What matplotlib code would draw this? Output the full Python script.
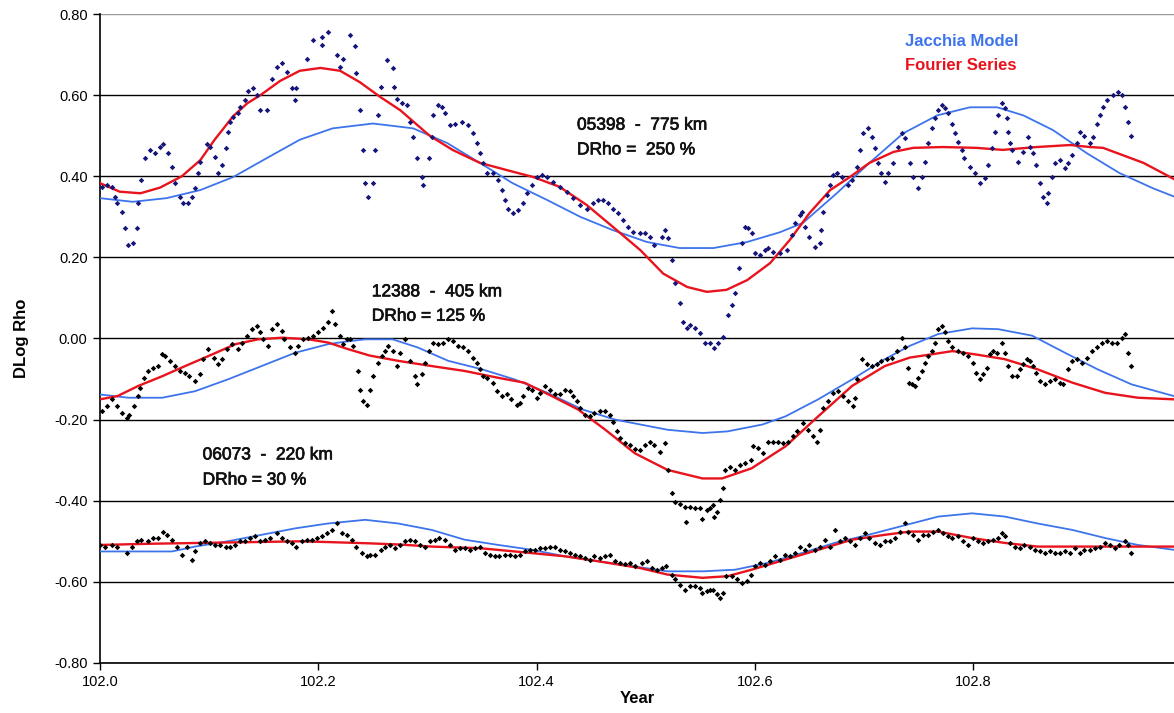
import numpy as np
import matplotlib
matplotlib.use("Agg")
import matplotlib.pyplot as plt
import matplotlib.patheffects as pe

plt.rcParams["font.family"] = ["Liberation Sans", "DejaVu Sans"]

# ---------------------------------------------------------------------------
# 05398 - 775 km (observed points)
s1_x = [
    102.002, 102.006, 102.011, 102.014, 102.016, 102.020, 102.023, 102.026, 102.030, 102.034,
    102.035, 102.038, 102.041, 102.046, 102.050, 102.055, 102.058, 102.062, 102.066, 102.069,
    102.073, 102.076, 102.081, 102.084, 102.087, 102.090, 102.092, 102.098, 102.101, 102.105,
    102.108, 102.112, 102.115, 102.117, 102.119, 102.122, 102.126, 102.128, 102.133, 102.136,
    102.140, 102.144, 102.147, 102.153, 102.158, 102.162, 102.167, 102.171, 102.176, 102.179,
    102.180, 102.190, 102.195, 102.203, 102.203, 102.209, 102.217, 102.220, 102.223, 102.229,
    102.234, 102.235, 102.238, 102.241, 102.243, 102.246, 102.250, 102.252, 102.255, 102.257,
    102.263, 102.268, 102.269, 102.272, 102.277, 102.281, 102.284, 102.287, 102.290, 102.295,
    102.296, 102.301, 102.304, 102.305, 102.310, 102.313, 102.316, 102.321, 102.325, 102.332,
    102.337, 102.342, 102.345, 102.348, 102.351, 102.355, 102.360, 102.365, 102.368, 102.371,
    102.374, 102.378, 102.383, 102.388, 102.391, 102.396, 102.400, 102.405, 102.410, 102.415,
    102.421, 102.428, 102.433, 102.440, 102.446, 102.452, 102.456, 102.461, 102.465, 102.470,
    102.475, 102.479, 102.484, 102.488, 102.495, 102.499, 102.504, 102.508, 102.515, 102.518,
    102.520, 102.524, 102.527, 102.531, 102.534, 102.538, 102.541, 102.545, 102.550, 102.554,
    102.559, 102.563, 102.566, 102.571, 102.575, 102.579, 102.582, 102.585, 102.588, 102.591,
    102.594, 102.597, 102.600, 102.605, 102.609, 102.612, 102.617, 102.623, 102.629, 102.634,
    102.637, 102.641, 102.643, 102.646, 102.650, 102.655, 102.660, 102.661, 102.662, 102.666,
    102.669, 102.672, 102.675, 102.680, 102.685, 102.689, 102.694, 102.696, 102.699, 102.704,
    102.707, 102.710, 102.713, 102.716, 102.719, 102.722, 102.727, 102.731, 102.735, 102.738,
    102.742, 102.745, 102.749, 102.753, 102.756, 102.759, 102.762, 102.765, 102.768, 102.771,
    102.774, 102.777, 102.781, 102.783, 102.786, 102.790, 102.792, 102.797, 102.802, 102.806,
    102.811, 102.814, 102.817, 102.820, 102.823, 102.826, 102.829, 102.831, 102.832, 102.834,
    102.836, 102.841, 102.846, 102.850, 102.852, 102.855, 102.858, 102.861, 102.864, 102.868,
    102.869, 102.872, 102.875, 102.880, 102.884, 102.887, 102.891, 102.895, 102.898, 102.902,
    102.907, 102.910, 102.913, 102.916, 102.919, 102.923, 102.928, 102.933, 102.936, 102.939,
    102.942, 102.945,
]
s1_y = [
    0.374, 0.378, 0.374, 0.350, 0.334, 0.312, 0.272, 0.230, 0.235, 0.272,
    0.334, 0.390, 0.445, 0.465, 0.457, 0.472, 0.480, 0.457, 0.423, 0.383,
    0.350, 0.334, 0.334, 0.350, 0.370, 0.408, 0.435, 0.480, 0.472, 0.447,
    0.408, 0.428, 0.470, 0.510, 0.534, 0.546, 0.555, 0.570, 0.588, 0.610,
    0.617, 0.600, 0.563, 0.563, 0.640, 0.670, 0.680, 0.657, 0.617, 0.588,
    0.617, 0.690, 0.736, 0.743, 0.724, 0.756, 0.700, 0.670, 0.690, 0.748,
    0.720, 0.655, 0.563, 0.465, 0.383, 0.350, 0.383, 0.465, 0.550, 0.620,
    0.687, 0.667, 0.620, 0.590, 0.580, 0.575, 0.534, 0.497, 0.445, 0.398,
    0.378, 0.445, 0.497, 0.550, 0.575, 0.570, 0.555, 0.526, 0.530, 0.534,
    0.526, 0.506, 0.482, 0.457, 0.433, 0.408, 0.408, 0.390, 0.366, 0.341,
    0.320, 0.309, 0.317, 0.334, 0.358, 0.378, 0.398, 0.403, 0.398, 0.386,
    0.374, 0.361, 0.346, 0.329, 0.320, 0.334, 0.341, 0.341, 0.334, 0.320,
    0.309, 0.292, 0.275, 0.263, 0.260, 0.260, 0.250, 0.230, 0.250, 0.267,
    0.248, 0.193, 0.137, 0.087, 0.040, 0.026, 0.033, 0.026, 0.013, -0.010,
    -0.010, -0.023, -0.010, 0.003, 0.058, 0.083, 0.112, 0.174, 0.235, 0.275,
    0.272, 0.260, 0.210, 0.206, 0.218, 0.223, 0.213, 0.210, 0.218, 0.255,
    0.285, 0.304, 0.312, 0.275, 0.250, 0.226, 0.235, 0.267, 0.312, 0.354,
    0.378, 0.403, 0.408, 0.398, 0.378, 0.390, 0.423, 0.465, 0.506, 0.518,
    0.497, 0.470, 0.433, 0.408, 0.386, 0.408, 0.433, 0.472, 0.506, 0.494,
    0.433, 0.398, 0.370, 0.398, 0.435, 0.482, 0.518, 0.543, 0.563, 0.575,
    0.568, 0.555, 0.530, 0.506, 0.484, 0.465, 0.445, 0.423, 0.408, 0.383,
    0.395, 0.428, 0.470, 0.510, 0.550, 0.580, 0.568, 0.543, 0.510, 0.482,
    0.465, 0.435, 0.460, 0.497, 0.472, 0.457, 0.428, 0.383, 0.350, 0.334,
    0.358, 0.398, 0.433, 0.440, 0.420, 0.433, 0.452, 0.482, 0.510, 0.500,
    0.482, 0.497, 0.530, 0.550, 0.570, 0.588, 0.600, 0.608, 0.600, 0.570,
    0.534, 0.500,
]

# 12388 - 405 km (observed points)
s2_x = [
    102.002, 102.006, 102.011, 102.016, 102.020, 102.025, 102.027, 102.031, 102.035, 102.037,
    102.040, 102.044, 102.049, 102.053, 102.057, 102.060, 102.064, 102.069, 102.073, 102.078,
    102.082, 102.087, 102.092, 102.094, 102.099, 102.104, 102.108, 102.112, 102.116, 102.121,
    102.126, 102.130, 102.135, 102.139, 102.144, 102.147, 102.149, 102.154, 102.158, 102.162,
    102.167, 102.169, 102.174, 102.179, 102.181, 102.186, 102.191, 102.195, 102.200, 102.204,
    102.209, 102.213, 102.215, 102.220, 102.223, 102.226, 102.229, 102.232, 102.236, 102.238,
    102.241, 102.245, 102.247, 102.250, 102.255, 102.258, 102.261, 102.264, 102.268, 102.272,
    102.275, 102.279, 102.284, 102.289, 102.290, 102.295, 102.298, 102.301, 102.305, 102.310,
    102.314, 102.319, 102.323, 102.328, 102.333, 102.337, 102.342, 102.345, 102.348, 102.351,
    102.355, 102.360, 102.364, 102.368, 102.373, 102.377, 102.382, 102.385, 102.388, 102.392,
    102.396, 102.400, 102.403, 102.408, 102.412, 102.417, 102.421, 102.426, 102.431, 102.433,
    102.437, 102.440, 102.444, 102.449, 102.453, 102.458, 102.463, 102.467, 102.470, 102.474,
    102.476, 102.481, 102.486, 102.490, 102.495, 102.499, 102.504, 102.508, 102.513, 102.518,
    102.520, 102.524, 102.527, 102.531, 102.536, 102.537, 102.541, 102.545, 102.550, 102.552,
    102.556, 102.559, 102.562, 102.563, 102.565, 102.568, 102.571, 102.573, 102.577, 102.582,
    102.586, 102.591, 102.596, 102.598, 102.603, 102.607, 102.612, 102.617, 102.621, 102.626,
    102.630, 102.635, 102.639, 102.644, 102.649, 102.653, 102.657, 102.660, 102.662, 102.667,
    102.672, 102.676, 102.681, 102.685, 102.690, 102.692, 102.694, 102.698, 102.703, 102.707,
    102.712, 102.716, 102.721, 102.726, 102.730, 102.735, 102.738, 102.740, 102.741, 102.744,
    102.747, 102.749, 102.753, 102.756, 102.759, 102.762, 102.765, 102.768, 102.771, 102.774,
    102.777, 102.781, 102.786, 102.791, 102.795, 102.800, 102.803, 102.806, 102.809, 102.813,
    102.815, 102.818, 102.822, 102.826, 102.829, 102.832, 102.836, 102.840, 102.843, 102.846,
    102.849, 102.852, 102.855, 102.858, 102.861, 102.866, 102.870, 102.875, 102.880, 102.882,
    102.887, 102.891, 102.895, 102.900, 102.904, 102.909, 102.913, 102.918, 102.923, 102.927,
    102.932, 102.936, 102.939, 102.942, 102.945,
]
s2_y = [
    -0.179, -0.167, -0.150, -0.167, -0.183, -0.196, -0.188, -0.167, -0.142, -0.121,
    -0.097, -0.080, -0.072, -0.068, -0.039, -0.043, -0.055, -0.068, -0.080, -0.084,
    -0.093, -0.105, -0.088, -0.051, -0.026, -0.047, -0.064, -0.051, -0.026, -0.014,
    -0.026, -0.010, 0.007, 0.023, 0.031, 0.015, -0.002, -0.018, 0.023, 0.036,
    0.019, -0.002, -0.022, -0.035, -0.018, -0.002, 0.002, 0.007, 0.015, 0.027,
    0.040, 0.069, 0.036, 0.007, -0.014, -0.002, -0.002, -0.018, -0.080, -0.126,
    -0.155, -0.165, -0.126, -0.093, -0.060, -0.043, -0.031, -0.018, -0.031, -0.068,
    -0.035, -0.002, -0.055, -0.093, -0.113, -0.088, -0.060, -0.031, -0.010, -0.014,
    -0.010, -0.002, -0.006, -0.018, -0.022, -0.031, -0.047, -0.060, -0.076, -0.093,
    -0.097, -0.109, -0.130, -0.142, -0.138, -0.150, -0.163, -0.159, -0.142, -0.121,
    -0.126, -0.146, -0.134, -0.117, -0.126, -0.138, -0.138, -0.126, -0.130, -0.142,
    -0.155, -0.171, -0.188, -0.192, -0.183, -0.179, -0.179, -0.188, -0.205, -0.229,
    -0.245, -0.258, -0.262, -0.272, -0.276, -0.262, -0.254, -0.262, -0.279, -0.258,
    -0.324, -0.382, -0.402, -0.407, -0.415, -0.452, -0.415, -0.419, -0.419, -0.444,
    -0.423, -0.419, -0.411, -0.440, -0.427, -0.398, -0.369, -0.324, -0.316, -0.324,
    -0.312, -0.307, -0.299, -0.266, -0.270, -0.283, -0.254, -0.254, -0.254, -0.258,
    -0.254, -0.241, -0.229, -0.208, -0.225, -0.241, -0.254, -0.225, -0.171, -0.155,
    -0.134, -0.130, -0.142, -0.155, -0.167, -0.146, -0.101, -0.051, -0.064, -0.068,
    -0.064, -0.055, -0.051, -0.047, -0.031, 0.002, -0.022, -0.072, -0.109, -0.113,
    -0.117, -0.097, -0.080, -0.060, -0.043, -0.031, -0.010, 0.023, 0.031, 0.015,
    -0.006, -0.022, -0.031, -0.035, -0.043, -0.060, -0.084, -0.101, -0.088, -0.072,
    -0.039, -0.031, -0.035, -0.010, -0.035, -0.068, -0.093, -0.093, -0.076, -0.064,
    -0.051, -0.055, -0.068, -0.084, -0.105, -0.113, -0.105, -0.101, -0.109, -0.113,
    -0.076, -0.055, -0.051, -0.060, -0.047, -0.031, -0.022, -0.010, -0.006, -0.010,
    -0.010, 0.002, 0.011, -0.035, -0.068,
]

# 06073 - 220 km (observed points)
s3_x = [
    102.000, 102.005, 102.011, 102.016, 102.025, 102.029, 102.034, 102.038, 102.044, 102.049,
    102.053, 102.058, 102.061, 102.066, 102.071, 102.075, 102.080, 102.084, 102.087, 102.092,
    102.096, 102.101, 102.105, 102.110, 102.115, 102.119, 102.124, 102.128, 102.133, 102.137,
    102.142, 102.147, 102.151, 102.156, 102.162, 102.167, 102.171, 102.176, 102.180, 102.185,
    102.190, 102.194, 102.199, 102.203, 102.208, 102.213, 102.217, 102.222, 102.226, 102.231,
    102.235, 102.240, 102.245, 102.247, 102.252, 102.257, 102.261, 102.266, 102.270, 102.275,
    102.279, 102.284, 102.289, 102.293, 102.298, 102.302, 102.307, 102.311, 102.316, 102.321,
    102.325, 102.330, 102.334, 102.339, 102.344, 102.348, 102.353, 102.357, 102.362, 102.366,
    102.371, 102.376, 102.380, 102.385, 102.389, 102.394, 102.399, 102.403, 102.408, 102.412,
    102.417, 102.421, 102.426, 102.431, 102.435, 102.440, 102.444, 102.449, 102.453, 102.458,
    102.463, 102.467, 102.472, 102.476, 102.481, 102.486, 102.490, 102.497, 102.501, 102.506,
    102.510, 102.515, 102.519, 102.524, 102.527, 102.531, 102.536, 102.541, 102.545, 102.550,
    102.552, 102.556, 102.559, 102.562, 102.565, 102.568, 102.571, 102.574, 102.579, 102.584,
    102.588, 102.593, 102.596, 102.600, 102.605, 102.609, 102.614, 102.618, 102.623, 102.628,
    102.632, 102.637, 102.641, 102.646, 102.650, 102.655, 102.660, 102.664, 102.669, 102.673,
    102.678, 102.683, 102.687, 102.692, 102.696, 102.701, 102.705, 102.710, 102.715, 102.719,
    102.724, 102.728, 102.733, 102.738, 102.740, 102.745, 102.749, 102.754, 102.759, 102.763,
    102.768, 102.772, 102.777, 102.781, 102.786, 102.791, 102.795, 102.800, 102.804, 102.809,
    102.814, 102.818, 102.823, 102.826, 102.829, 102.834, 102.838, 102.843, 102.847, 102.852,
    102.857, 102.861, 102.866, 102.870, 102.875, 102.880, 102.884, 102.889, 102.893, 102.898,
    102.902, 102.907, 102.912, 102.916, 102.921, 102.925, 102.930, 102.934, 102.939, 102.942,
    102.945,
]
s3_y = [
    -0.509, -0.513, -0.509, -0.513, -0.529, -0.513, -0.500, -0.496, -0.500, -0.492,
    -0.492, -0.476, -0.484, -0.496, -0.513, -0.533, -0.513, -0.545, -0.525, -0.504,
    -0.500, -0.504, -0.509, -0.509, -0.513, -0.513, -0.509, -0.500, -0.500, -0.492,
    -0.488, -0.500, -0.496, -0.492, -0.480, -0.492, -0.500, -0.504, -0.513, -0.500,
    -0.496, -0.496, -0.492, -0.488, -0.480, -0.472, -0.456, -0.480, -0.484, -0.496,
    -0.513, -0.529, -0.537, -0.533, -0.533, -0.521, -0.513, -0.509, -0.517, -0.509,
    -0.500, -0.496, -0.500, -0.509, -0.513, -0.500, -0.496, -0.492, -0.496, -0.509,
    -0.521, -0.517, -0.517, -0.521, -0.517, -0.513, -0.529, -0.533, -0.537, -0.537,
    -0.533, -0.533, -0.537, -0.533, -0.525, -0.521, -0.521, -0.517, -0.517, -0.513,
    -0.513, -0.521, -0.525, -0.529, -0.533, -0.537, -0.541, -0.545, -0.537, -0.541,
    -0.537, -0.533, -0.549, -0.553, -0.557, -0.553, -0.560, -0.553, -0.549, -0.566,
    -0.570, -0.566, -0.562, -0.582, -0.594, -0.607, -0.619, -0.611, -0.611, -0.615,
    -0.627, -0.623, -0.619, -0.619, -0.631, -0.639, -0.627, -0.586, -0.586, -0.594,
    -0.603, -0.598, -0.582, -0.562, -0.553, -0.558, -0.549, -0.537, -0.545, -0.533,
    -0.537, -0.529, -0.513, -0.521, -0.509, -0.521, -0.513, -0.496, -0.513, -0.472,
    -0.500, -0.492, -0.500, -0.509, -0.492, -0.480, -0.492, -0.504, -0.509, -0.500,
    -0.500, -0.492, -0.476, -0.456, -0.476, -0.484, -0.496, -0.484, -0.484, -0.476,
    -0.472, -0.480, -0.488, -0.492, -0.488, -0.500, -0.509, -0.492, -0.500, -0.504,
    -0.500, -0.496, -0.492, -0.480, -0.488, -0.504, -0.513, -0.517, -0.509, -0.513,
    -0.521, -0.525, -0.529, -0.525, -0.529, -0.529, -0.525, -0.529, -0.517, -0.529,
    -0.521, -0.521, -0.517, -0.513, -0.504, -0.509, -0.517, -0.509, -0.500, -0.509,
    -0.529,
]

# Fourier series fits (red)
f1_x = [102.000, 102.018, 102.037, 102.055, 102.075, 102.092, 102.105, 102.122, 102.135, 102.147,
        102.165, 102.183, 102.202, 102.220, 102.238, 102.257, 102.275, 102.302, 102.323, 102.348,
        102.373, 102.397, 102.421, 102.446, 102.470, 102.495, 102.516, 102.538, 102.556, 102.574,
        102.593, 102.614, 102.632, 102.650, 102.669, 102.687, 102.705, 102.727, 102.745, 102.772,
        102.803, 102.827, 102.858, 102.889, 102.907, 102.919, 102.937, 102.956, 102.984]
f1_y = [0.383, 0.362, 0.358, 0.372, 0.400, 0.440, 0.490, 0.548, 0.580, 0.600,
        0.635, 0.660, 0.667, 0.660, 0.632, 0.595, 0.563, 0.500, 0.465, 0.433,
        0.415, 0.398, 0.374, 0.329, 0.275, 0.218, 0.160, 0.127, 0.115, 0.120,
        0.144, 0.186, 0.243, 0.309, 0.366, 0.398, 0.433, 0.460, 0.470, 0.472,
        0.470, 0.465, 0.472, 0.477, 0.472, 0.470, 0.452, 0.433, 0.393]

f2_x = [102.000, 102.016, 102.035, 102.057, 102.078, 102.103, 102.124, 102.145, 102.167, 102.191,
        102.209, 102.227, 102.247, 102.273, 102.304, 102.334, 102.365, 102.389, 102.414, 102.438,
        102.463, 102.490, 102.520, 102.552, 102.570, 102.597, 102.628, 102.658, 102.689, 102.719,
        102.742, 102.762, 102.781, 102.804, 102.829, 102.859, 102.891, 102.921, 102.951, 102.984]
f2_y = [-0.150, -0.142, -0.117, -0.093, -0.068, -0.039, -0.014, -0.002, 0.002, -0.002,
        -0.010, -0.026, -0.042, -0.055, -0.068, -0.080, -0.097, -0.109, -0.142, -0.175,
        -0.225, -0.283, -0.324, -0.345, -0.345, -0.320, -0.266, -0.192, -0.117, -0.068,
        -0.047, -0.039, -0.031, -0.040, -0.051, -0.076, -0.109, -0.134, -0.146, -0.150]

f3_x = [102.000, 102.046, 102.092, 102.137, 102.183, 102.211, 102.247, 102.275, 102.304, 102.348,
        102.380, 102.426, 102.456, 102.495, 102.520, 102.552, 102.575, 102.597, 102.628, 102.658,
        102.689, 102.719, 102.742, 102.768, 102.799, 102.829, 102.859, 102.891, 102.921, 102.951,
        102.984]
f3_y = [-0.509, -0.506, -0.504, -0.502, -0.500, -0.502, -0.505, -0.508, -0.513, -0.517,
        -0.525, -0.537, -0.549, -0.566, -0.582, -0.590, -0.586, -0.570, -0.545, -0.521,
        -0.496, -0.484, -0.476, -0.476, -0.492, -0.504, -0.513, -0.513, -0.513, -0.513,
        -0.513]

# Jacchia model (blue)
j1_x = [102.000, 102.030, 102.061, 102.092, 102.122, 102.153, 102.183, 102.213, 102.250, 102.275,
        102.287, 102.318, 102.348, 102.378, 102.410, 102.440, 102.470, 102.501, 102.531, 102.562,
        102.593, 102.623, 102.644, 102.675, 102.705, 102.736, 102.767, 102.797, 102.822, 102.846,
        102.873, 102.904, 102.934, 102.965, 102.984]
j1_y = [0.346, 0.337, 0.346, 0.366, 0.398, 0.445, 0.490, 0.518, 0.530, 0.522,
        0.518, 0.482, 0.433, 0.383, 0.341, 0.300, 0.267, 0.238, 0.223, 0.223,
        0.238, 0.262, 0.285, 0.358, 0.433, 0.506, 0.550, 0.570, 0.570, 0.550,
        0.514, 0.457, 0.408, 0.370, 0.350]

j2_x = [102.000, 102.026, 102.057, 102.087, 102.117, 102.148, 102.179, 102.209, 102.224, 102.243,
        102.268, 102.291, 102.319, 102.350, 102.380, 102.410, 102.442, 102.472, 102.495, 102.520,
        102.552, 102.575, 102.607, 102.628, 102.658, 102.689, 102.719, 102.742, 102.768, 102.799,
        102.823, 102.854, 102.884, 102.914, 102.945, 102.984]
j2_y = [-0.138, -0.146, -0.146, -0.130, -0.101, -0.068, -0.035, -0.014, -0.008, -0.002,
        -0.002, -0.022, -0.055, -0.076, -0.101, -0.134, -0.175, -0.200, -0.212, -0.225,
        -0.233, -0.229, -0.212, -0.192, -0.150, -0.101, -0.051, -0.018, 0.011, 0.025,
        0.023, 0.007, -0.035, -0.076, -0.113, -0.142]

j3_x = [102.000, 102.026, 102.066, 102.087, 102.117, 102.148, 102.179, 102.209, 102.243, 102.273,
        102.304, 102.334, 102.365, 102.396, 102.426, 102.456, 102.490, 102.520, 102.552, 102.582,
        102.612, 102.643, 102.673, 102.704, 102.738, 102.768, 102.799, 102.829, 102.859, 102.891,
        102.921, 102.951, 102.984]
j3_y = [-0.525, -0.525, -0.525, -0.513, -0.500, -0.484, -0.468, -0.456, -0.447, -0.456,
        -0.472, -0.496, -0.509, -0.521, -0.537, -0.549, -0.562, -0.574, -0.574, -0.570,
        -0.553, -0.529, -0.504, -0.484, -0.460, -0.439, -0.431, -0.439, -0.456, -0.472,
        -0.492, -0.509, -0.521]

labels = [
    (102.437, 0.526, "05398  -  775 km"), (102.437, 0.465, "DRho =  250 %"),
    (102.249, 0.115, "12388  -  405 km"), (102.249, 0.055, "DRho = 125 %"),
    (102.094, -0.287, "06073  -  220 km"), (102.094, -0.349, "DRho = 30 %"),
]

yticks = [-0.8, -0.6, -0.4, -0.2, 0.0, 0.2, 0.4, 0.6, 0.8]
xticks = [102.0, 102.2, 102.4, 102.6, 102.8]

BLUE = "#3d74ec"
RED = "#e8131c"
NAVY = "#15157a"

# ---------------------------------------------------------------------------
fig = plt.figure(figsize=(11.74, 7.13), dpi=100)
ax = fig.add_axes([100 / 1174, 1 - 663 / 713, 1 - 100 / 1174, (663 - 14) / 713])

for fx, fy, jx, jy in [(f1_x, f1_y, j1_x, j1_y), (f2_x, f2_y, j2_x, j2_y),
                       (f3_x, f3_y, j3_x, j3_y)]:
    ax.plot(jx, jy, color=BLUE, lw=1.3, zorder=3)
    ax.plot(fx, fy, color=RED, lw=1.7, zorder=3)

ax.plot(s1_x, s1_y, ls="none", marker="D", ms=2.8, mew=0, color=NAVY, zorder=4)
ax.plot(s2_x, s2_y, ls="none", marker="D", ms=2.8, mew=0, color="black", zorder=4)
ax.plot(s3_x, s3_y, ls="none", marker="D", ms=2.8, mew=0, color="black", zorder=4)

# slightly heavier than regular weight, like the original annotation text
thick = [pe.withStroke(linewidth=0.5, foreground="#111111")]
for x, y, s in labels:
    ax.text(x, y, s, fontsize=12.5, ha="left", va="center", color="#111111",
            path_effects=thick)
ax.text(102.738, 0.731, "Jacchia Model", fontsize=12, fontweight="bold",
        color=BLUE, ha="left", va="center")
ax.text(102.738, 0.672, "Fourier Series", fontsize=12, fontweight="bold",
        color=RED, ha="left", va="center")

ax.set_xlim(102.0, 102.984)
ax.set_ylim(-0.8, 0.8)
ax.set_yticks(yticks)
ax.set_yticklabels([f"{v:.2f}" for v in yticks])
ax.set_xticks(xticks)
ax.set_xticklabels([f"{v:.1f}" for v in xticks])
ax.tick_params(direction="out", length=5, width=1, labelsize=10.5, colors="black", pad=4)
ax.yaxis.grid(True, color="black", lw=1.0)
ax.get_ygridlines()[-1].set_color("0.6")
ax.set_axisbelow(True)
for side in ("top", "right"):
    ax.spines[side].set_visible(False)
for side in ("left", "bottom"):
    ax.spines[side].set_linewidth(1.2)

ax.set_xlabel("Year", fontsize=12, fontweight="bold", labelpad=1)
ax.set_ylabel("DLog Rho", fontsize=12, fontweight="bold", labelpad=18)

fig.savefig("out.png", dpi=100)
